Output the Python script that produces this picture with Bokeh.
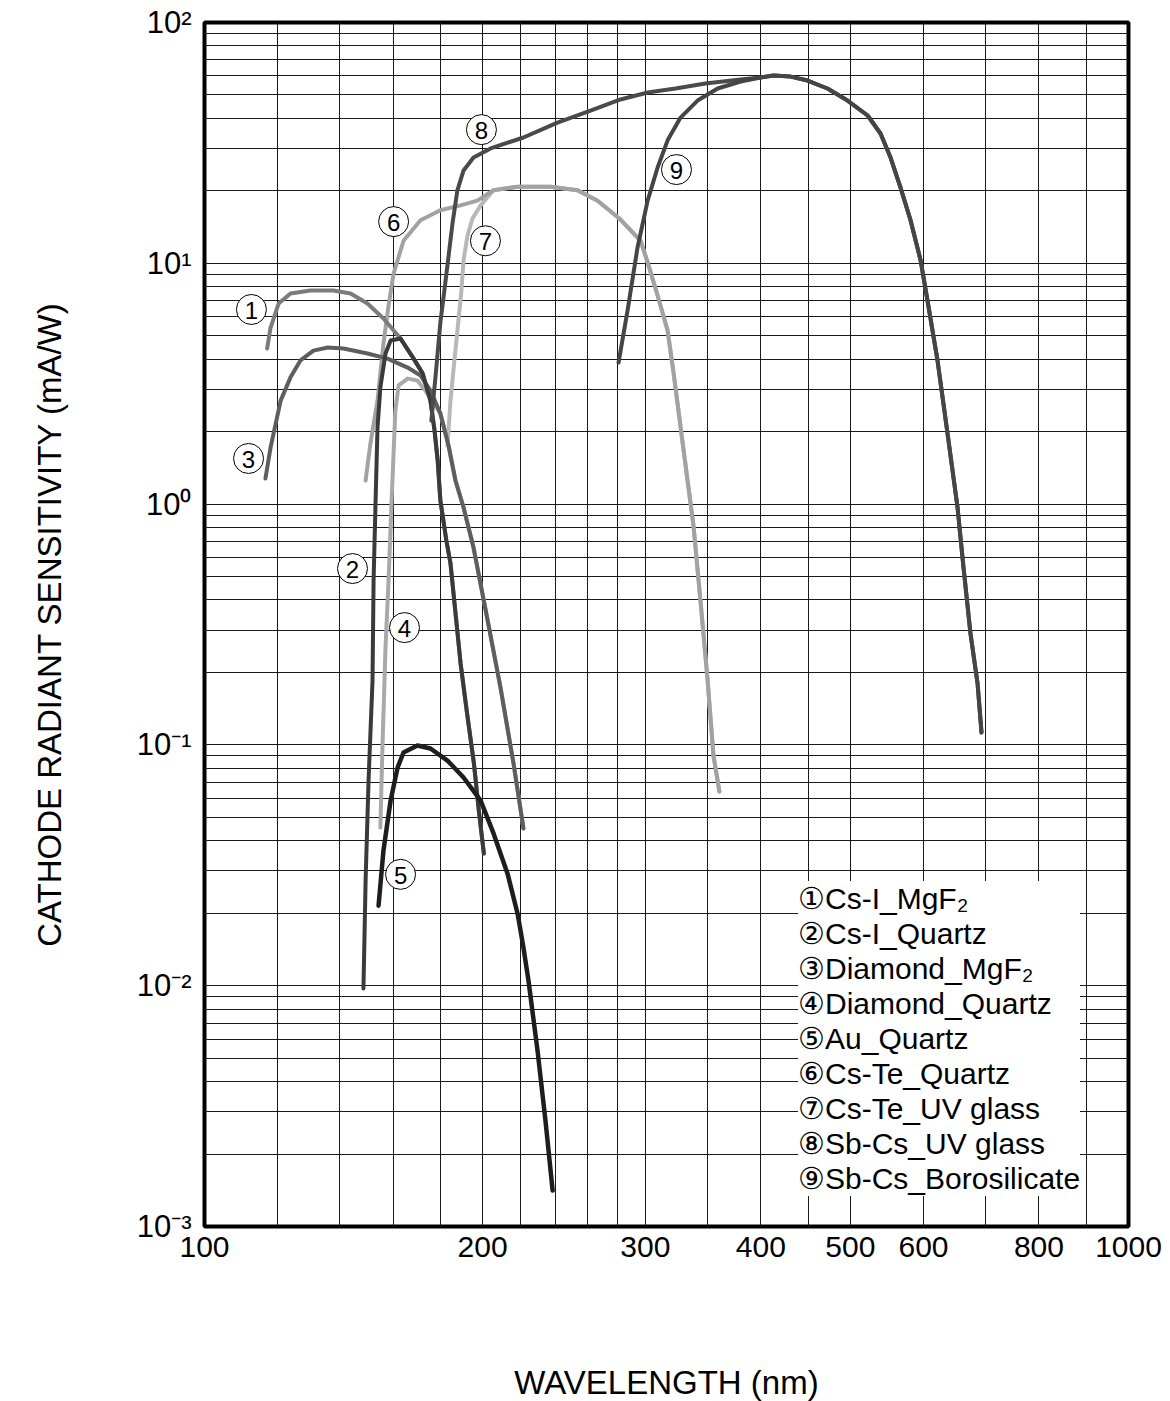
from bokeh.plotting import figure
from bokeh.models import (FixedTicker, Legend, LegendItem, Label,
                          CustomJSTickFormatter, NumeralTickFormatter)
from bokeh.core.properties import value
from bokeh.embed import file_html
from bokeh.resources import INLINE

# ---------------- data (wavelength nm, sensitivity mA/W) ----------------
c1_wl = [116.9, 117.9, 120.3, 123.9, 130.2, 137.9, 143.9, 150.1, 156.2, 163.0, 168.4,
         172.2, 175.6, 177.4, 178.8, 180.0, 182.7, 184.6, 186.8, 189.3, 192.2, 195.7, 198.1, 200.6]
c1_s = [4.43, 5.41, 6.81, 7.49, 7.71, 7.71, 7.49, 6.81, 5.90, 4.87, 4.02,
        3.49, 2.69, 2.02, 1.517, 1.035, 0.706, 0.567, 0.361, 0.218, 0.139, 0.0837, 0.0534, 0.0354]

c2_wl = [148.6, 149.4, 150.5, 152.0, 152.4, 153.1, 153.9, 155.0, 157.0, 159.0, 163.0, 168.4,
         172.2, 175.6, 177.4, 178.8, 180.0, 182.7, 184.6, 186.8, 189.3, 192.2, 195.7, 198.1, 200.6]
c2_s = [0.00974, 0.0273, 0.0711, 0.185, 0.482, 0.968, 2.08, 3.05, 4.22, 4.78, 4.87, 4.02,
        3.49, 2.69, 2.02, 1.517, 1.035, 0.706, 0.567, 0.361, 0.218, 0.139, 0.0837, 0.0534, 0.0354]

c3_wl = [116.4, 117.9, 120.9, 123.9, 127.0, 131.2, 135.9, 141.4, 150.1, 157.8, 165.9, 171.3,
         175.6, 180.0, 183.7, 186.9, 190.7, 195.5, 202.5, 209.1, 216.0, 221.4]
c3_s = [1.277, 1.72, 2.69, 3.36, 3.95, 4.34, 4.47, 4.43, 4.22, 4.02, 3.69, 3.42,
        2.96, 2.38, 1.75, 1.253, 0.968, 0.660, 0.329, 0.173, 0.0837, 0.0450]

c4_wl = [155.0, 155.8, 157.0, 158.2, 159.4, 160.9, 162.2, 165.9, 170.0, 173.4,
         180.0, 183.7, 186.9, 190.7, 195.5, 202.5, 209.1, 216.0, 221.4]
c4_s = [0.0454, 0.0975, 0.254, 0.482, 1.035, 2.45, 3.11, 3.32, 3.26, 2.96,
        2.38, 1.75, 1.253, 0.968, 0.660, 0.329, 0.173, 0.0837, 0.0450]

c5_wl = [154.3, 156.2, 159.0, 161.8, 164.2, 170.0, 175.6, 183.2, 190.7, 199.0, 205.5,
         212.8, 218.2, 221.4, 224.2, 229.3, 233.9, 238.1]
c5_s = [0.0215, 0.0364, 0.0587, 0.0805, 0.0930, 0.0994, 0.0966, 0.0861, 0.0732, 0.0587, 0.0429,
        0.0292, 0.0199, 0.0144, 0.0105, 0.00538, 0.00275, 0.00141]

c6_wl = [149.4, 151.2, 153.9, 156.2, 158.2, 160.2, 164.2, 171.3, 180.0, 189.3, 197.4, 205.5,
         218.2, 236.9, 253.3, 266.3, 282.0, 296.5, 301.7, 309.3, 317.1, 321.8, 329.9, 338.2,
         344.3, 350.2, 355.5, 360.8]
c6_s = [1.253, 1.785, 2.69, 4.64, 6.68, 9.07, 12.4, 15.1, 16.6, 17.4, 18.2, 20.1,
        20.8, 20.8, 20.1, 18.2, 15.2, 12.4, 10.08, 7.35, 5.26, 3.52, 1.686, 0.815,
        0.390, 0.189, 0.0903, 0.0640]

c7_wl = [183.2, 184.6, 186.4, 188.3, 189.7, 190.7, 192.6, 195.0, 199.0, 205.5,
         218.2, 236.9, 253.3, 266.3, 282.0, 296.5, 301.7, 309.3, 317.1, 321.8, 329.9, 338.2,
         344.3, 350.2, 355.5, 360.8]
c7_s = [1.75, 2.69, 3.95, 5.79, 7.71, 10.3, 13.05, 15.35, 17.4, 20.1,
        20.8, 20.8, 20.1, 18.2, 15.2, 12.4, 10.08, 7.35, 5.26, 3.52, 1.686, 0.815,
        0.390, 0.189, 0.0903, 0.0640]

c8_wl = [176.0, 177.8, 180.0, 181.8, 183.2, 185.5, 187.8, 190.7, 195.5, 204.0, 221.4, 241.0,
         261.7, 282.0, 301.7, 323.4, 348.4, 380.4, 399.9, 412.9, 430.8, 449.4, 472.3, 496.5,
         522.0, 539.0, 552.7, 566.6, 580.9, 595.6, 606.0, 621.3, 637.0, 653.1, 662.9, 674.5,
         686.5, 693.3]
c8_s = [2.22, 3.36, 5.68, 7.71, 9.79, 14.6, 20.1, 24.3, 27.5, 30.0, 33.3, 38.4,
        43.1, 47.9, 51.2, 53.2, 55.8, 58.0, 59.1, 60.2, 59.6, 57.4, 53.2, 47.4,
        41.1, 34.6, 27.5, 20.6, 15.1, 10.3, 7.00, 3.95, 1.965, 0.968, 0.545, 0.290,
        0.180, 0.1126]

c9_wl = [280.6, 287.0, 294.2, 301.7, 309.3, 317.1, 327.5, 341.7, 359.2, 380.4, 399.9,
         412.9, 430.8, 449.4, 472.3, 496.5, 522.0, 539.0, 552.7, 566.6, 580.9, 595.6,
         606.0, 621.3, 637.0, 653.1, 662.9, 674.5, 686.5, 693.3]
c9_s = [3.87, 6.37, 11.63, 18.2, 25.0, 32.4, 40.3, 47.4, 53.2, 56.9, 59.1,
        60.2, 59.6, 57.4, 53.2, 47.4, 41.1, 34.6, 27.5, 20.6, 15.1, 10.3,
        7.00, 3.95, 1.965, 0.968, 0.545, 0.290, 0.180, 0.1126]

legend_labels = ["①Cs-I_MgF₂", "②Cs-I_Quartz", "③Diamond_MgF₂", "④Diamond_Quartz",
                 "⑤Au_Quartz", "⑥Cs-Te_Quartz", "⑦Cs-Te_UV glass", "⑧Sb-Cs_UV glass",
                 "⑨Sb-Cs_Borosilicate"]

# circled curve-number markers (wavelength, sensitivity, number)
mark_wl = [112.4, 144.6, 111.6, 164.6, 163.0, 160.2, 201.4, 199.4, 324.2]
mark_s = [6.43, 0.540, 1.547, 0.307, 0.0290, 14.9, 12.4, 35.9, 24.5]
mark_txt = ["1", "2", "3", "4", "5", "6", "7", "8", "9"]

x_tick_vals = [100, 200, 300, 400, 500, 600, 800, 1000]
y_tick_vals = [1e-3, 1e-2, 1e-1, 1e0, 1e1, 1e2]
x_grid_vals = [100, 120, 140, 160, 180, 200, 220, 240, 260, 280, 300, 350, 400,
               450, 500, 600, 700, 800, 900, 1000]
y_grid_vals = [m * 10.0 ** e for e in range(-3, 2) for m in range(1, 10)] + [100.0]

FONT = "Liberation Sans"

p = figure(x_axis_type="log", y_axis_type="log", x_range=(100, 1000), y_range=(1e-3, 1e2),
           frame_width=924, frame_height=1204,
           min_border_left=204, min_border_right=40, min_border_top=22, min_border_bottom=175,
           output_backend="svg", toolbar_location=None)
p.background_fill_color = "white"
p.border_fill_color = "white"
p.outline_line_color = "black"
p.outline_line_width = 4

# grids
p.xgrid.ticker = FixedTicker(ticks=x_grid_vals)
p.ygrid.ticker = FixedTicker(ticks=y_grid_vals)
for g in (p.xgrid, p.ygrid):
    g.grid_line_color = "#1a1a1a"
    g.grid_line_width = 1
    g.grid_line_alpha = 1

# axes
p.xaxis.ticker = FixedTicker(ticks=x_tick_vals)
p.xaxis.formatter = NumeralTickFormatter(format="0")
p.yaxis.ticker = FixedTicker(ticks=y_tick_vals)
p.yaxis.formatter = CustomJSTickFormatter(code="""
const e = Math.round(Math.log10(tick));
const sup = {'-':'\u207b','0':'\u2070','1':'\u00b9','2':'\u00b2','3':'\u00b3'};
return '10' + String(e).split('').map(c => sup[c]).join('');
""")
for ax in (p.xaxis, p.yaxis):
    ax.axis_line_color = None
    ax.major_tick_line_color = None
    ax.minor_tick_line_color = None
    ax.major_tick_in = 0
    ax.major_tick_out = 0
    ax.minor_tick_in = 0
    ax.minor_tick_out = 0
    ax.major_label_text_font = FONT
    ax.major_label_text_font_size = "30px"
    ax.major_label_text_color = "black"
    ax.axis_label_text_font = FONT
    ax.axis_label_text_font_size = "33px"
    ax.axis_label_text_font_style = "normal"
    ax.axis_label_text_color = "black"
p.yaxis.major_label_text_font_size = "31px"
p.xaxis.axis_label = "WAVELENGTH (nm)"
p.yaxis.axis_label = "CATHODE RADIANT SENSITIVITY (mA/W)"
p.xaxis.major_label_standoff = 10
p.yaxis.major_label_standoff = 13
p.xaxis.axis_label_standoff = 104
p.yaxis.axis_label_standoff = 66

# curves
curves = [
    (c1_wl, c1_s, "#7c7c7c", 4),
    (c2_wl, c2_s, "#3a3a3a", 4),
    (c3_wl, c3_s, "#5e5e5e", 4),
    (c4_wl, c4_s, "#a9a9a9", 4),
    (c5_wl, c5_s, "#1e1e1e", 4.5),
    (c6_wl, c6_s, "#a2a2a2", 4),
    (c7_wl, c7_s, "#b8b8b8", 4),
    (c8_wl, c8_s, "#4a4a4a", 4),
    (c9_wl, c9_s, "#454545", 4),
]
draw_order = [6, 5, 3, 0, 2, 1, 7, 8, 4]
renderers = [None] * 9
for i in draw_order:
    wl, s, col, w = curves[i]
    renderers[i] = p.line(wl, s, line_color=col, line_width=w, line_join="round", line_cap="round")

# circled numbers on curves
p.scatter(mark_wl, mark_s, size=30, marker="circle", fill_color="white",
          line_color="black", line_width=1)
p.text(mark_wl, mark_s, text=mark_txt, text_align="center", text_baseline="middle",
       text_font=value(FONT), text_font_size="24px", text_color="black", y_offset=1)

# legend
items = [LegendItem(label=lab, renderers=[renderers[i]]) for i, lab in enumerate(legend_labels)]
legend = Legend(items=items, location=(594, 30), glyph_width=0, glyph_height=35,
                label_height=35, label_standoff=0, spacing=0, padding=6, margin=0,
                background_fill_color="white", background_fill_alpha=1.0,
                border_line_color=None, label_text_font=FONT, label_text_font_size="30px",
                label_text_color="black")
p.add_layout(legend)

# small document code above the frame
p.add_layout(Label(x=103.3, y=112.0, text="TPT B0001ED", text_font=FONT,
                   text_font_size="9px", text_baseline="middle", text_color="black"))

open("out.html", "w").write(file_html(p, INLINE))
